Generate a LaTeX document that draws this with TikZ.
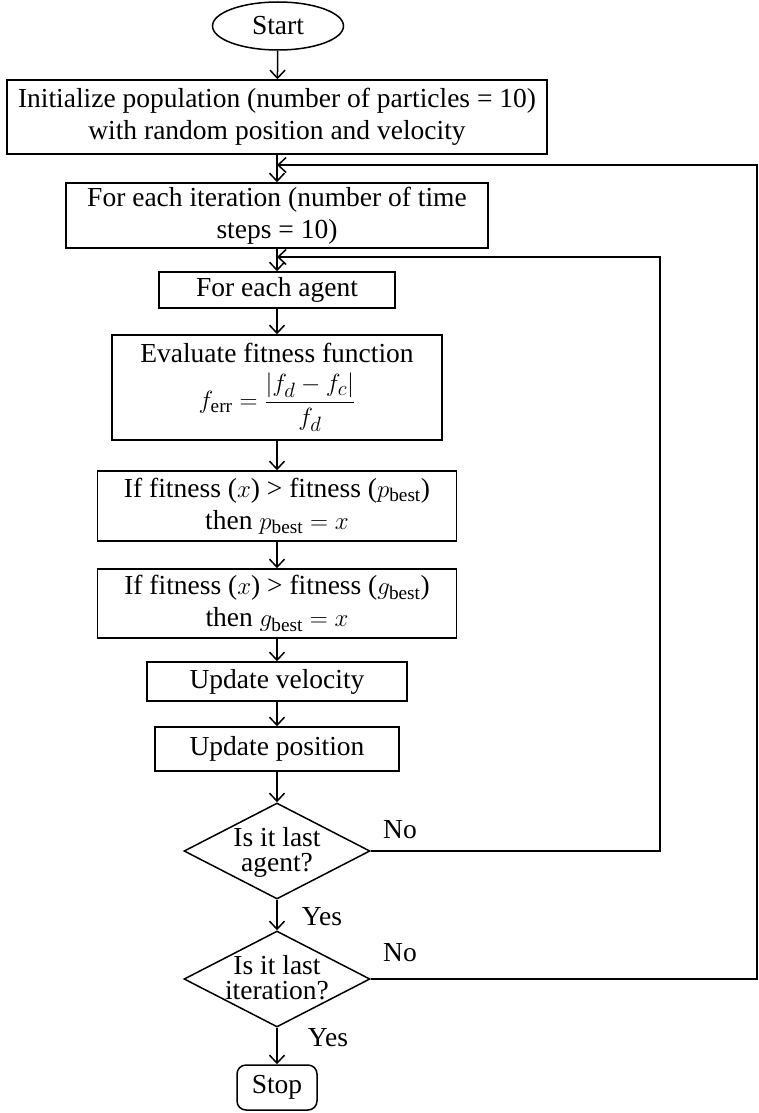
\documentclass[tikz,border=0pt]{standalone}
\usepackage{fontspec}
\setmainfont{Liberation Serif}
\usetikzlibrary{shapes.geometric,arrows.meta}
\newcommand{\dtext}[1]{\makebox[0pt]{\smash{\raisebox{-8pt}{\begin{tabular}{@{}c@{}}#1\end{tabular}}}}}
\begin{document}
\begin{tikzpicture}[x=1pt,y=-1pt,
  every node/.style={font=\fontsize{27.5}{32}\selectfont, inner sep=0pt},
  box/.style={draw, rectangle, line width=1.5pt, align=center},
  term/.style={draw, ellipse, line width=1.5pt},
  dec/.style={draw, diamond, line width=1.5pt, inner sep=0pt, font=\fontsize{27.5}{24}\selectfont},
  flow/.style={line width=1.5pt, -{Straight Barb[length=8pt,width=15pt,line width=1.5pt]}},
  line/.style={line width=1.5pt}]
\useasboundingbox (0,0) rectangle (758,1113);

\node[term, minimum width=131pt, minimum height=48pt] (start) at (278,26) {Start};
\node[box, minimum width=540pt, minimum height=74pt] (init) at (277,117)
  {Initialize population (number of particles = 10)\\with random position and velocity};
\node[box, minimum width=422pt, minimum height=65pt] (iter) at (277,215.5)
  {For each iteration (number of time\\steps = 10)};
\node[box, minimum width=236pt, minimum height=36pt] (agent) at (277,290) {For each agent};
\node[box, minimum width=330pt, minimum height=105pt] (eval) at (277,387.5)
  {Evaluate fitness function\\[9pt]$\displaystyle f_{\mathrm{err}} = \frac{|f_d - f_c|}{f_d}$};
\node[box, minimum width=359pt, minimum height=70pt] (pb) at (277,506)
  {If fitness ($x$) > fitness ($p_{\mathrm{best}}$)\\then $p_{\mathrm{best}} = x$};
\node[box, minimum width=359pt, minimum height=69pt] (gb) at (277,603.5)
  {If fitness ($x$) > fitness ($g_{\mathrm{best}}$)\\then $g_{\mathrm{best}} = x$};
\node[box, minimum width=260pt, minimum height=39pt] (vel) at (277,681.5) {Update velocity};
\node[box, minimum width=244pt, minimum height=44pt] (pos) at (277,749) {Update position};
\node[dec, minimum width=186pt, minimum height=96pt] (d1) at (277,851) {\dtext{Is it last\\agent?}};
\node[dec, minimum width=186pt, minimum height=96pt] (d2) at (277,979) {\dtext{Is it last\\iteration?}};
\node[box, rounded corners=9pt, minimum width=80pt, minimum height=45pt] (stop) at (277,1087.5) {Stop};

\node (no1) at (400,830) {No};
\node (yes1) at (322,917) {Yes};
\node (no2) at (400,953) {No};
\node (yes2) at (328,1038) {Yes};

\coordinate (j1) at (277,165);
\coordinate (r1) at (757,165);
\coordinate (j2) at (277,257);
\coordinate (r2) at (660,257);

\draw[flow] (start) -- (init);
\draw[flow] (init) -- (iter);
\draw[flow] (iter) -- (agent);
\draw[flow] (agent) -- (eval);
\draw[flow] (eval) -- (pb);
\draw[flow] (pb) -- (gb);
\draw[flow] (gb) -- (vel);
\draw[flow] (vel) -- (pos);
\draw[flow] (pos) -- (d1.north);
\draw[flow] (d1.south) -- (d2.north);
\draw[flow] (d2.south) -- (stop);
\draw[flow] (d1.east) -| (r2) -- (j2);
\draw[flow] (d2.east) -| (r1) -- (j1);
\end{tikzpicture}
\end{document}
